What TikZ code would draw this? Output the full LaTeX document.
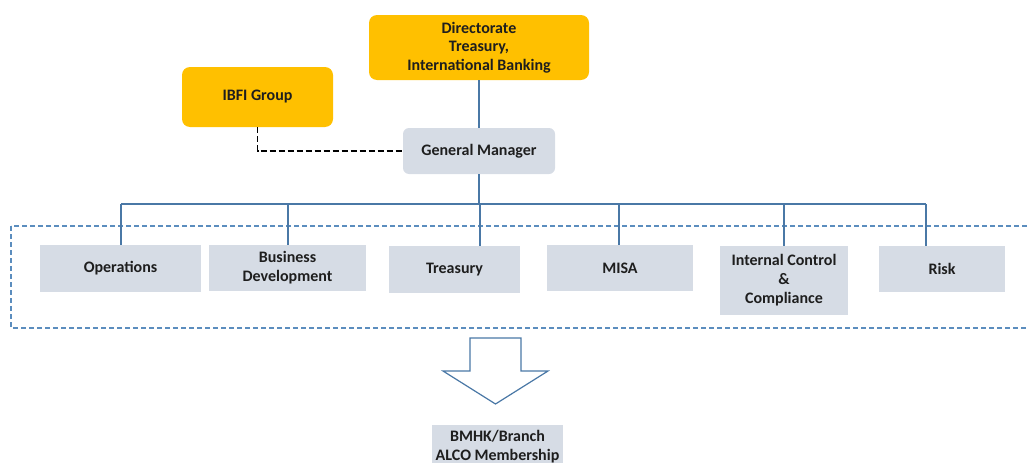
\documentclass[tikz,border=0pt]{standalone}
\usepackage{fontspec}
\setmainfont{Carlito}
\usepackage{tikz}
\usetikzlibrary{positioning}

\definecolor{gold}{HTML}{FFC000}
\definecolor{pale}{HTML}{D6DCE5}
\definecolor{steel}{HTML}{4A78A6}
\definecolor{frame}{HTML}{5B8DBE}
\definecolor{ink}{HTML}{1E1E1E}

\tikzset{
	head/.style={draw=none, fill=gold, text=ink, rounded corners=8pt, align=center, font=\bfseries\fontsize{16}{18.5}\selectfont},
	dept/.style={draw=none, fill=pale, text=ink, align=center, font=\bfseries\fontsize{16}{19}\selectfont},
	link/.style={draw=steel, line width=1.5pt}
}

\begin{document}
\begin{tikzpicture}[x=1pt, y=-1pt, inner sep=0pt]
	\useasboundingbox (0,0) rectangle (1029,463);
	\clip (0,0) rectangle (1029,463);
	
	% Top level
	\node[head, minimum width=220pt, minimum height=65pt] (dir) at (479,47.5) {Directorate\\Treasury,\\International Banking};
	\node[head, minimum width=151pt, minimum height=60pt] (ibfi) at (257.5,97) {IBFI Group};
	\node[dept, rounded corners=6pt, minimum width=152pt, minimum height=46pt] (gm) at (479,151) {General Manager};
	
	% Divisions
	\draw[frame, line width=1.2pt, dash pattern=on 5pt off 3pt] (11,226) rectangle (1045,328);
	\node[dept, minimum width=161pt, minimum height=47pt] (ops) at (120.5,268.5) {Operations};
	\node[dept, minimum width=157pt, minimum height=46pt] (bd) at (287.5,268) {Business\\Development};
	\node[dept, minimum width=131pt, minimum height=47pt] (tre) at (454.5,269.5) {Treasury};
	\node[dept, minimum width=146pt, minimum height=46pt] (misa) at (620,268) {MISA};
	\node[dept, minimum width=128pt, minimum height=69pt] (icc) at (784,280.5) {Internal Control\\\&\\Compliance};
	\node[dept, minimum width=126pt, minimum height=46pt] (risk) at (942,269) {Risk};
	
	% Connectors
	\draw[link] (dir.south) -- (gm.north);
	\draw[black, line width=1.3pt, dash pattern=on 6pt off 3pt] (ibfi.south) |- (gm.west);
	\foreach \n/\x in {ops/121, bd/288, tre/480, misa/619, icc/784, risk/926} {
		\coordinate (t\n) at (\x,204);
		\draw[link] (t\n) -- (t\n |- \n.north);
	}
	\draw[link] (tops) -- (trisk);
	\draw[link] (gm.south) -- (gm.south |- ttre);
	
	% Down arrow
	\draw[steel, line width=1.2pt, fill=white, line join=miter] (470,338) -- (521,338) -- (521,371) -- (548,371) -- (495.5,404) -- (443,371) -- (470,371) -- cycle;
	
	% Membership
	\node[dept, minimum width=131pt, minimum height=44pt] (bmhk) at (497.5,447) {BMHK/Branch\\ALCO Membership};
\end{tikzpicture}
\end{document}
